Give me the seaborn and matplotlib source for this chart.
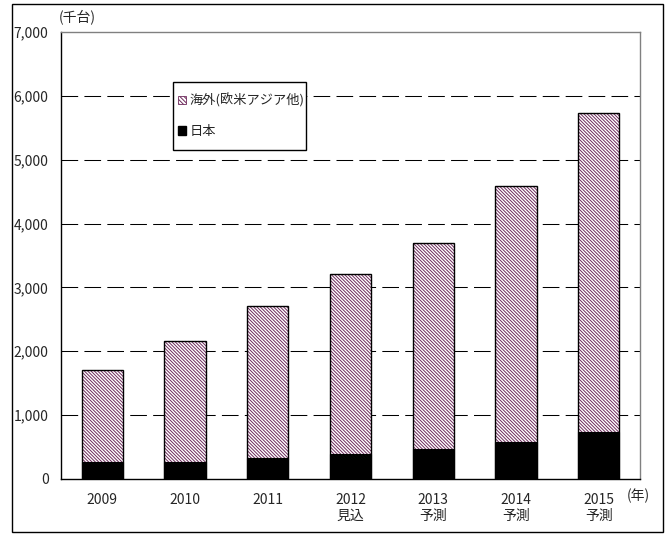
import numpy as np
import pandas as pd
import matplotlib
matplotlib.use("Agg")
import matplotlib.pyplot as plt
import seaborn as sns
from matplotlib.ticker import FuncFormatter
from matplotlib.patches import Patch, Rectangle

years = ["2009", "2010", "2011", "2012\n見込", "2013\n予測", "2014\n予測", "2015\n予測"]
japan = [265, 265, 330, 390, 470, 585, 735]
overseas = [1440, 1890, 2380, 2820, 3220, 4005, 4995]
y_ticks = [0, 1000, 2000, 3000, 4000, 5000, 6000, 7000]

label_overseas = "海外(欧米アジア他)"
label_japan = "日本"
hatch_color = "#6e2a5c"

sns.set_style("white")
plt.rcParams["font.family"] = ["Noto Sans CJK JP", "DejaVu Sans"]
plt.rcParams["hatch.linewidth"] = 0.7

df = pd.DataFrame({"year": years, "japan": japan, "overseas": overseas})
df["total"] = df["japan"] + df["overseas"]

fig = plt.figure(figsize=(6.72, 5.39), dpi=100)
ax = fig.add_axes([61 / 672, 1 - 479 / 539, 579 / 672, 447 / 539])

# hatched overseas part (drawn as full stack, japan goes on top)
sns.barplot(data=df, x="year", y="total", order=years, color="white", width=0.5,
            edgecolor=hatch_color, linewidth=0, hatch="\\" * 10, errorbar=None,
            ax=ax, zorder=2)
sns.barplot(data=df, x="year", y="japan", order=years, color="black", width=0.5,
            edgecolor="black", linewidth=0.8, errorbar=None, ax=ax, zorder=3)
sns.barplot(data=df, x="year", y="total", order=years, color="black", fill=False,
            width=0.5, linewidth=1.0, errorbar=None, ax=ax, zorder=4)

ax.set_xlim(-0.5, len(years) - 0.5)
ax.set_ylim(0, 7000)
ax.set_yticks(y_ticks)
ax.yaxis.set_major_formatter(FuncFormatter(lambda v, p: f"{int(v):,}"))
ax.set_xlabel("")
ax.set_ylabel("")

ax.set_axisbelow(True)
ax.yaxis.grid(True, color="black", linewidth=0.75, linestyle=(0, (16, 6)))
glines = ax.get_ygridlines()
glines[0].set_visible(False)
glines[-1].set_visible(False)

ax.set_xticks(np.arange(-0.5, len(years), 1), minor=True)
ax.tick_params(axis="x", which="major", length=0, pad=10, labelsize=10)
ax.tick_params(axis="x", which="minor", direction="in", length=5, width=0.8,
               color="black")
ax.tick_params(axis="y", length=0, pad=9, labelsize=10)
for lab in ax.get_xticklabels():
    lab.set_linespacing(1.2)

for s in ["left", "bottom"]:
    ax.spines[s].set_color("black")
    ax.spines[s].set_linewidth(1.0)
for s in ["top", "right"]:
    ax.spines[s].set_color("#808080")
    ax.spines[s].set_linewidth(1.0)

handles = [
    Patch(facecolor="white", edgecolor=hatch_color, hatch="\\" * 8, linewidth=0.6),
    Patch(facecolor="black", edgecolor="black"),
]
leg = ax.legend(handles, [label_overseas, label_japan], loc="upper left",
                bbox_to_anchor=((178 - 61) / 579, 1 - (93 - 32) / 447),
                frameon=False, fontsize=9.5, borderpad=0, borderaxespad=0,
                handlelength=0.6, handleheight=0.6, handletextpad=0.3,
                labelspacing=1.35)
leg.set_zorder(6)
ax.add_patch(Rectangle(((173 - 61) / 579, 1 - (150 - 32) / 447),
                       (306 - 173) / 579, (150 - 82) / 447,
                       transform=ax.transAxes, facecolor="white",
                       edgecolor="black", linewidth=1.0, zorder=5))

fig.text(59 / 672, 1 - 17 / 539, "(千台)", fontsize=10, va="center", ha="left")
fig.text(627 / 672, 1 - 496 / 539, "(年)", fontsize=10, va="center", ha="left")

fig.add_artist(Rectangle((12 / 672, 1 - 532 / 539), 651 / 672, 528 / 539,
                         transform=fig.transFigure, fill=False,
                         edgecolor="black", linewidth=1.0))

fig.savefig("out.png", dpi=100)
